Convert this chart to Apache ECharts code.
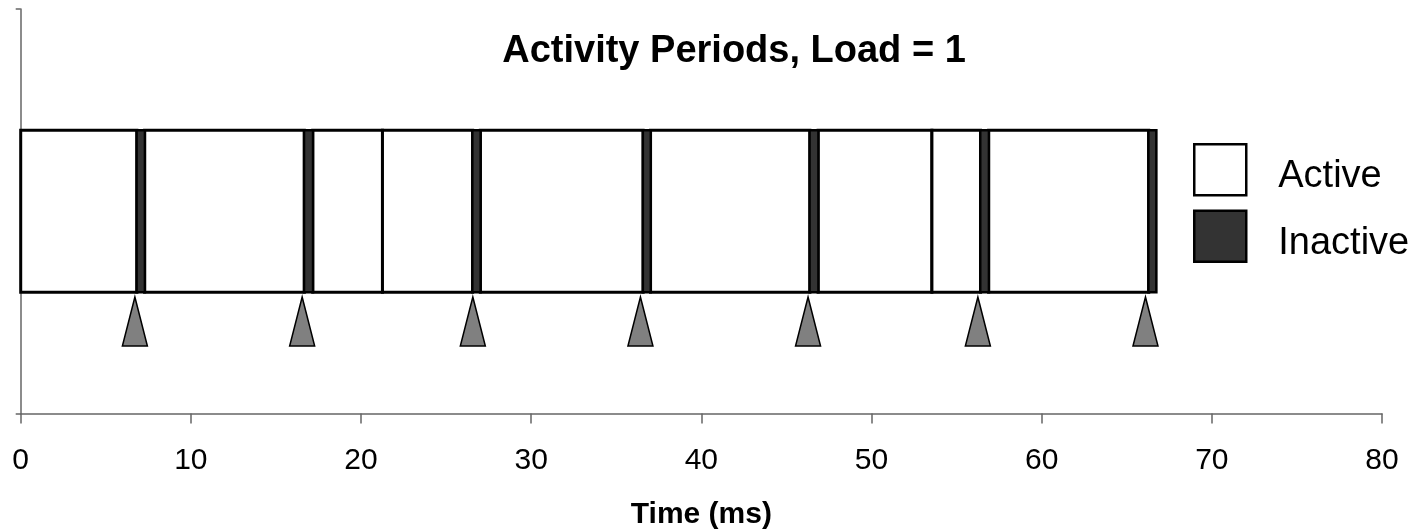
<!DOCTYPE html>
<html>
<head>
<meta charset="utf-8">
<script src="https://cdn.jsdelivr.net/npm/echarts@6/dist/echarts.min.js"></script>
<style>
html, body { margin: 0; padding: 0; background: #fff; }
#container { width: 1412px; height: 531px; }
</style>
</head>
<body>
<div id="container"></div>
<script>
// time in ms
var activeStart = [0, 7.28, 17.16, 21.26, 27.01, 37.01, 46.86, 53.55, 56.88];
var activeEnd = [6.83, 16.67, 21.26, 26.56, 36.58, 46.38, 53.55, 56.41, 66.29];
var inactiveStart = [6.81, 16.65, 26.54, 36.56, 46.36, 56.39, 66.27];
var inactiveEnd = [7.3, 17.18, 27.03, 37.03, 46.88, 56.9, 66.74];
var arrivals = [6.71, 16.54, 26.57, 36.42, 46.27, 56.25, 66.1];
var xTicks = [0, 10, 20, 30, 40, 50, 60, 70, 80];

var barLow = 0.3, barHigh = 0.7;
var triTop = 0.288, triBottom = 0.167;

function pairs(a, b) {
    var out = [];
    for (var i = 0; i < a.length; i++) {
        out.push([a[i], b[i]]);
    }
    return out;
}

function renderSegment(params, api) {
    var p0 = api.coord([api.value(0), barHigh]);
    var p1 = api.coord([api.value(1), barLow]);
    return {
        type: 'rect',
        shape: { x: p0[0], y: p0[1], width: p1[0] - p0[0], height: p1[1] - p0[1] },
        style: api.style()
    };
}

function renderArrival(params, api) {
    var top = api.coord([api.value(0), triTop]);
    var bot = api.coord([api.value(0), triBottom]);
    var half = 12.5;
    return {
        type: 'polygon',
        shape: { points: [[top[0], top[1]], [bot[0] + half, bot[1]], [bot[0] - half, bot[1]]] },
        style: { fill: '#808080', stroke: '#000', lineWidth: 1.5 }
    };
}

var dom = document.getElementById("container");
var myChart = echarts.init(dom);
var font = '"Liberation Sans", Arial, sans-serif';

var option = {
    animation: false,
    textStyle: { fontFamily: font },
    title: {
        text: 'Activity Periods, Load = 1',
        left: 729,
        top: 28,
        textAlign: 'center',
        textStyle: { fontFamily: font, fontSize: 38, fontWeight: 'bold', color: '#000' }
    },
    legend: {
        orient: 'vertical',
        left: 1188,
        top: 138,
        itemWidth: 52,
        itemHeight: 51,
        itemGap: 13,
        icon: 'rect',
        data: ['Active', 'Inactive'],
        itemStyle: { borderColor: '#000', borderWidth: 2.5 },
        formatter: '{t|{name}}',
        textStyle: {
            fontFamily: font, fontSize: 38, color: '#000', padding: [0, 0, 0, 27],
            rich: { t: { fontFamily: font, fontSize: 38, color: '#000', padding: [14, 0, 0, 0] } }
        }
    },
    grid: { left: 20.7, right: 30, top: 9, bottom: 117.5, containLabel: false, outerBoundsMode: 'none' },
    xAxis: {
        type: 'value',
        min: 0,
        max: 80,
        interval: 10,
        name: 'Time (ms)',
        nameLocation: 'middle',
        nameGap: 86,
        nameTextStyle: { fontFamily: font, fontSize: 30, fontWeight: 'bold', color: '#000' },
        axisLine: { lineStyle: { color: '#666', width: 1.5 } },
        axisTick: { length: 10, lineStyle: { color: '#666', width: 1.5 } },
        axisLabel: {
            margin: 32,
            fontFamily: font,
            fontSize: 30,
            color: '#000',
            formatter: function (v) { return xTicks.indexOf(v) >= 0 ? String(v) : ''; }
        },
        splitLine: { show: false }
    },
    yAxis: {
        type: 'value',
        min: 0,
        max: 1,
        interval: 1,
        axisLine: { show: true, lineStyle: { color: '#666', width: 1.5 } },
        axisTick: { show: true, length: 5, lineStyle: { color: '#666', width: 1.5 } },
        axisLabel: { show: false },
        splitLine: { show: false }
    },
    series: [{
        name: 'Active',
        type: 'custom',
        renderItem: renderSegment,
        encode: { x: [0, 1] },
        itemStyle: { color: '#fff', borderColor: '#000', borderWidth: 3 },
        data: pairs(activeStart, activeEnd)
    }, {
        name: 'Inactive',
        type: 'custom',
        renderItem: renderSegment,
        encode: { x: [0, 1] },
        itemStyle: { color: '#333', borderColor: '#000', borderWidth: 2.5 },
        data: pairs(inactiveStart, inactiveEnd)
    }, {
        name: 'Arrival',
        type: 'custom',
        renderItem: renderArrival,
        encode: { x: 0 },
        data: arrivals.map(function (t) { return [t]; })
    }]
};

if (option && typeof option === "object") {
    myChart.setOption(option, true);
}
</script>
</body>
</html>
